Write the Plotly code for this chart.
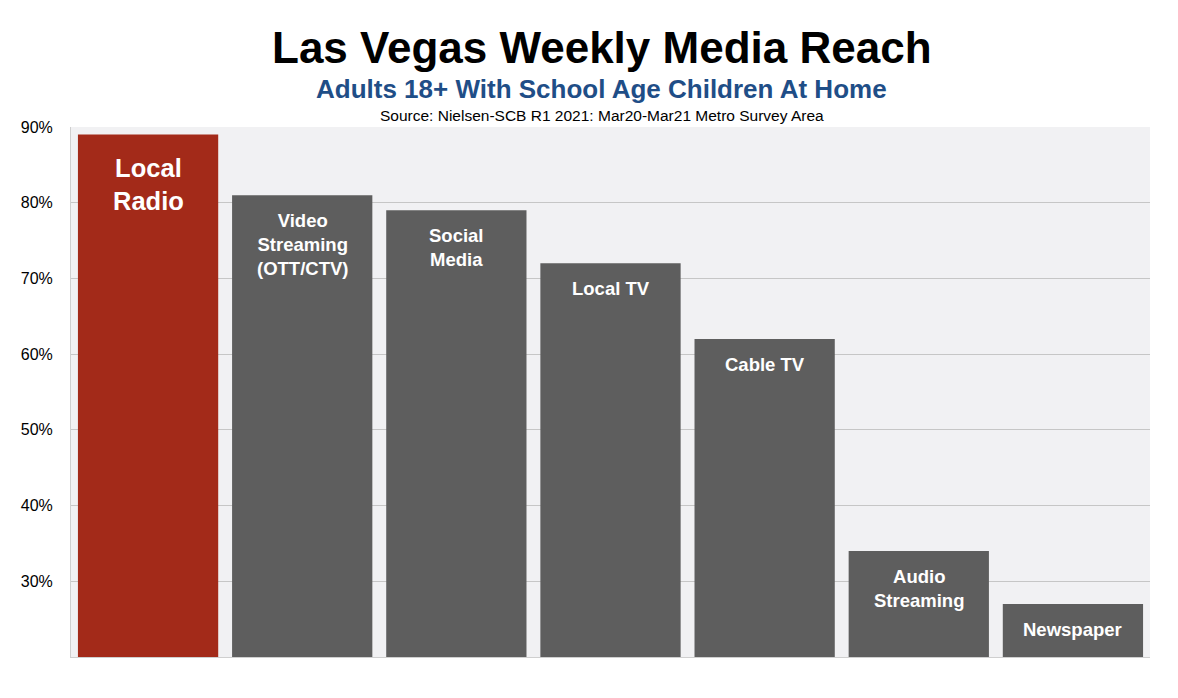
import plotly.graph_objects as go

categories = ["Local Radio", "Video Streaming (OTT/CTV)", "Social Media", "Local TV",
              "Cable TV", "Audio Streaming", "Newspaper"]
labels = ["Local<br>Radio", "Video<br>Streaming<br>(OTT/CTV)", "Social<br>Media", "Local TV",
          "Cable TV", "Audio<br>Streaming", "Newspaper"]
values = [89, 81, 79, 72, 62, 34, 27]
colors = ["#a32a19", "#5e5e5e", "#5e5e5e", "#5e5e5e", "#5e5e5e", "#5e5e5e", "#5e5e5e"]
tick_vals = [30, 40, 50, 60, 70, 80, 90]
tick_text = ["30%", "40%", "50%", "60%", "70%", "80%", "90%"]

FONT = "Liberation Sans, Arial, Helvetica, sans-serif"

fig = go.Figure(go.Bar(x=categories, y=values, marker=dict(color=colors, line=dict(width=0)),
                       hoverinfo="x+y"))

for i, (c, lab, v) in enumerate(zip(categories, labels, values)):
    big = i == 0
    fig.add_annotation(x=c, y=v, text="<b>%s</b>" % lab, showarrow=False,
                       yanchor="top", yshift=-17 if big else -13,
                       font=dict(family=FONT, size=25.5 if big else 18.5, color="white"),
                       align="center")

fig.add_annotation(text="<b>Las Vegas Weekly Media Reach</b>", xref="paper", yref="paper",
                   x=0.5, y=1, xanchor="center", yanchor="bottom", yshift=53, xshift=-9,
                   showarrow=False, font=dict(family=FONT, size=44, color="black"))
fig.add_annotation(text="<b>Adults 18+ With School Age Children At Home</b>", xref="paper", yref="paper",
                   x=0.5, y=1, xanchor="center", yanchor="bottom", yshift=21, xshift=-9,
                   showarrow=False, font=dict(family=FONT, size=26, color="#1f4e87"))
fig.add_annotation(text="Source: Nielsen-SCB R1 2021: Mar20-Mar21 Metro Survey Area", xref="paper", yref="paper",
                   x=0.5, y=1, xanchor="center", yanchor="bottom", yshift=1, xshift=-9,
                   showarrow=False, font=dict(family=FONT, size=15.5, color="black"))

fig.update_layout(
    width=1170, height=690,
    margin=dict(l=63, r=28, t=119, b=41),
    paper_bgcolor="white", plot_bgcolor="#f1f1f3",
    bargap=0.09, showlegend=False,
    font=dict(family=FONT, color="black"),
    xaxis=dict(showticklabels=False, ticks="", showgrid=False, showline=True,
               linecolor="#cfcfcf", linewidth=1, zeroline=False),
    yaxis=dict(range=[20, 90], tickvals=tick_vals, ticktext=tick_text,
               tickfont=dict(family=FONT, size=16, color="black"),
               showgrid=True, gridcolor="#c6c6c6", gridwidth=1,
               showline=True, linecolor="#cfcfcf", linewidth=1, zeroline=False,
               ticks="", ticklabelstandoff=14),
)

fig.write_html("out.html")
